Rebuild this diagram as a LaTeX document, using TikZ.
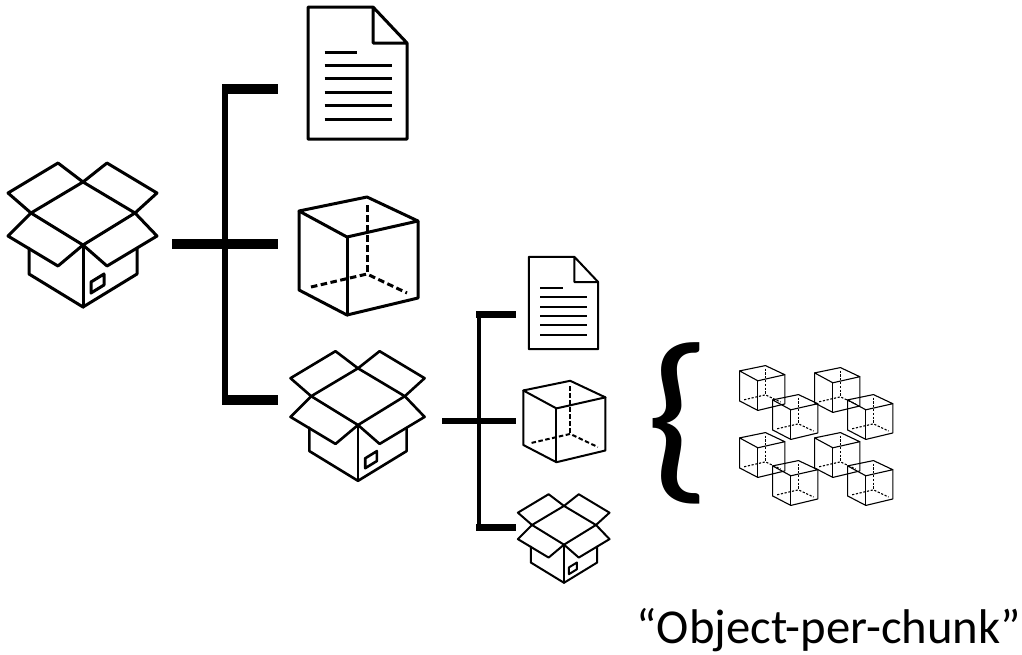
\documentclass[tikz,border=0pt]{standalone}
\usepackage{fontspec}
\setmainfont{Carlito}
\tikzset{
    bar/.style={line width=#1},
    icon/.style={line width=#1, line join=round, line cap=round},
    pics/boxicon/.style={code={
        \draw[icon=#1] (-25,-72) -- (-75,-42) -- (-52,-22) -- (0,-53) -- cycle;
        \draw[icon=#1] (24,-72) -- (74,-42) -- (52,-22) -- (0,-53) -- cycle;
        \draw[icon=#1] (-52,-22) -- (0,10) -- (52,-22);
        \draw[icon=#1] (-52,-22) -- (-75,1) -- (-25,31) -- (0,10) -- (24,31) -- (74,1) -- (52,-22);
        \draw[icon=#1] (-54,13) -- (-54,39) -- (0,72) -- (54,39) -- (54,13);
        \draw[icon=#1] (0,10) -- (0,72);
        \draw[icon=#1] (8,47) -- (21,39) -- (21,50) -- (8,58) -- cycle;
    }},
    pics/docicon/.style={code={
        \draw[icon=#1] (15.5,-66) -- (-49.5,-66) -- (-49.5,66) -- (49.5,66) -- (49.5,-30) -- (15.5,-66) -- (15.5,-30) -- (49.5,-30);
        \draw[icon=#1, line cap=butt] (-33,-21) -- (-1,-21);
        \foreach \row in {-8,5.5,19,32,46}
            \draw[icon=#1, line cap=butt] (-33,\row) -- (34,\row);
    }},
    pics/cubeicon/.style n args={3}{code={
        \draw[icon=#1] (-59,-45) -- (9,-59) -- (60,-35) -- (-11,-19) -- cycle;
        \draw[icon=#1] (-59,-45) -- (-59,34) -- (-11,59) -- (60,42) -- (60,-35);
        \draw[icon=#1] (-11,-19) -- (-11,59);
        \draw[icon=#1, line cap=butt, dash pattern=on #2 off #3] (9,-51) -- (9,18);
        \draw[icon=#1, line cap=butt, dash pattern=on #2 off #3] (-47,31) -- (9,18) -- (49,37);
    }}
}
\begin{document}
\begin{tikzpicture}[x=1pt,y=-1pt]
    \useasboundingbox (0,0) rectangle (1022,654);
    \coordinate (rootstub) at (172,244);
    \coordinate (roottop) at (278,88.5);
    \coordinate (rootmid) at (278,244);
    \coordinate (rootlow) at (278,400);
    \coordinate (substub) at (442,421);
    \coordinate (subtop) at (516,314.5);
    \coordinate (submid) at (516,421);
    \coordinate (sublow) at (516,527.5);

    \pic at (83,235) {boxicon=3pt};
    \pic at (357.5,73) {docicon=3pt};
    \pic at (358,256) {cubeicon={3pt}{6.5pt}{3.5pt}};
    \pic[scale=.9] at (358,416) {boxicon=2.6pt};
    \pic[scale=.7] at (563.5,303) {docicon=2pt};
    \pic[scale=.69] at (564,421.5) {cubeicon={2pt}{4.5pt}{2.5pt}};
    \pic[scale=.615] at (564,538.5) {boxicon=2pt};
    \foreach \cx/\cy in {762/388,795/417,837/390,870/417,762/455,795/483,837/455,870/483}
        \pic[scale=.38] at (\cx,\cy) {cubeicon={1.1pt}{2.2pt}{1.6pt}};

    % brackets
    \draw[bar=10pt] (rootstub) -- (rootmid);
    \draw[bar=10pt] (222,88.5) -- (roottop);
    \draw[bar=10pt] (222,400) -- (rootlow);
    \draw[bar=6.5pt] (225,84) -- (225,404);
    \draw[bar=6.5pt] (substub) -- (submid);
    \draw[bar=6.5pt] (476,314.5) -- (subtop);
    \draw[bar=6.5pt] (476,527.5) -- (sublow);
    \draw[bar=4pt] (479,312) -- (479,530);

    \node[xscale=1.12, transform shape] (chunkbrace) at (679,423) {\fontsize{188pt}{188pt}\selectfont\{};
    \node[anchor=base, inner sep=0pt] (chunklabel) at (829,643) {\fontsize{48.7pt}{48.7pt}\selectfont “Object-per-chunk”};
\end{tikzpicture}
\end{document}
